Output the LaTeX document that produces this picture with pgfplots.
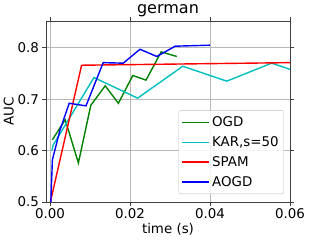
\documentclass[border=0pt]{standalone}
\usepackage{pgfplots}
\pgfplotsset{compat=1.18}
\usepackage{fontspec}
\setmainfont{DejaVu Sans}
\definecolor{mgreen}{rgb}{0,0.5,0}
\definecolor{mcyan}{rgb}{0,0.75,0.75}
\begin{document}
\begin{tikzpicture}
\begin{axis}[
  at={(0,0)}, anchor=south west,
  scale only axis,
  width=244pt, height=181pt,
  xmin=-0.001, xmax=0.06,
  ymin=0.5, ymax=0.852,
  scaled x ticks=false,
  xtick={0,0.02,0.04,0.06},
  xticklabels={0.00,0.02,0.04,0.06},
  ytick={0.5,0.6,0.7,0.8},
  yticklabels={0.5,0.6,0.7,0.8},
  tick label style={font=\fontsize{13.4}{15}\selectfont},
  label style={font=\fontsize{13.4}{15}\selectfont},
  title style={font=\fontsize{16}{18}\selectfont, yshift=-5pt},
  title={german},
  xlabel={time (s)},
  ylabel={AUC},
  xlabel style={yshift=3pt},
  ylabel style={yshift=-3pt},
  grid=major,
  major grid style={color=black!28, line width=0.6pt},
  axis line style={black!75, line width=0.8pt},
  tick align=outside,
  major tick length=3.5pt,
  tick style={black!75, line width=0.8pt},
  legend style={at={(0.975,0.044)}, anchor=south east, font=\fontsize{13.4}{15}\selectfont,
    draw=black!25, rounded corners=2pt, fill=white, fill opacity=0.85, text opacity=1, draw opacity=1,
    row sep=4.5pt, inner xsep=3pt, inner ysep=4pt},
  legend cell align=left,
  legend image code/.code={\draw[#1, line width=1.4pt, opacity=1] (0pt,0pt) -- (27pt,0pt);},
]
\addplot[mgreen, line width=1.4pt, mark=none] coordinates {
 (0.0006,0.621) (0.0038,0.660) (0.0071,0.576) (0.0102,0.688) (0.0138,0.726)
 (0.0171,0.692) (0.0207,0.746) (0.0240,0.737) (0.0278,0.792) (0.0317,0.783)
};
\addlegendentry{OGD}
\addplot[mcyan, line width=1.4pt, mark=none] coordinates {
 (0.0005,0.600) (0.0008,0.611) (0.0110,0.742) (0.0219,0.702) (0.0332,0.764)
 (0.0442,0.735) (0.0554,0.770) (0.0600,0.758)
};
\addlegendentry{KAR,s=50}
\addplot[red, line width=1.4pt, mark=none] coordinates {
 (0.0001,0.500) (0.0079,0.766) (0.0600,0.771)
};
\addlegendentry{SPAM}
\addplot[blue, line width=1.4pt, mark=none] coordinates {
 (0.0002,0.500) (0.0006,0.582) (0.0025,0.640) (0.0048,0.692) (0.0090,0.687)
 (0.0133,0.771) (0.0183,0.770) (0.0225,0.797) (0.0267,0.783) (0.0313,0.803)
 (0.0400,0.805)
};
\addlegendentry{AOGD}
\end{axis}
\pgfresetboundingbox
\path[use as bounding box] (-46pt,-39pt) rectangle (264pt,202pt);
\end{tikzpicture}
\end{document}
